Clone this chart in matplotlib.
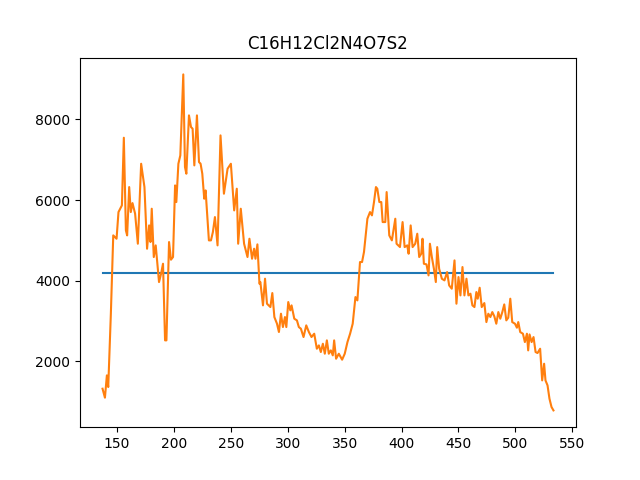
import matplotlib
matplotlib.use("Agg")
import matplotlib.pyplot as plt

# values
x = [137.4, 139.5, 141.2, 142.4, 144.7, 146.8, 149.7, 151.4, 154.4, 156.1, 157.9, 159.0,
     160.8, 162.2, 163.7, 166.0, 168.4, 171.3, 174.2, 176.5, 178.3, 179.5, 180.6, 182.4,
     184.1, 187.0, 188.8, 190.5, 192.3, 193.5, 195.8, 197.5, 199.3, 201.1, 202.2, 204.0,
     205.7, 208.3, 209.8, 211.0, 213.3, 215.1, 216.5, 218.0, 220.3, 222.1, 223.5, 225.0,
     226.7, 227.9, 230.8, 232.6, 234.3, 236.1, 238.4, 241.0, 244.0, 247.2, 250.1, 253.0,
     255.3, 256.5, 258.8, 261.7, 264.7, 266.4, 268.7, 270.5, 271.7, 273.4, 275.2, 276.0,
     278.3, 280.1, 281.8, 284.8, 286.5, 288.3, 290.6, 292.3, 294.1, 295.8, 297.6, 298.8,
     300.5, 302.3, 303.4, 305.8, 308.1, 309.8, 311.6, 313.9, 316.3, 318.6, 320.9, 323.3,
     325.6, 327.4, 329.1, 330.9, 332.6, 334.4, 336.1, 337.9, 339.6, 340.8, 342.5, 344.9,
     347.8, 350.1, 352.5, 354.8, 357.1, 359.5, 361.2, 363.5, 365.3, 367.0, 370.0, 372.3,
     374.0, 375.8, 377.5, 378.7, 380.5, 382.2, 383.4, 385.7, 386.9, 389.2, 391.5, 394.5,
     395.6, 398.6, 400.9, 402.7, 405.0, 406.2, 408.0, 409.7, 412.0, 413.8, 415.5, 417.3,
     418.4, 419.6, 421.9, 423.7, 424.9, 426.6, 428.4, 430.1, 431.3, 433.0, 435.4, 437.7,
     440.0, 441.8, 444.1, 446.5, 448.2, 450.0, 451.7, 453.5, 455.2, 457.0, 458.7, 460.5,
     462.2, 464.0, 465.7, 466.9, 468.6, 470.4, 472.7, 474.5, 476.2, 478.0, 479.7, 481.5,
     483.2, 485.0, 486.7, 488.5, 490.2, 492.0, 493.7, 495.5, 497.2, 499.6, 501.3, 502.5,
     504.2, 506.6, 508.3, 510.1, 511.2, 512.4, 514.2, 515.9, 517.7, 519.4, 521.7, 523.5,
     525.2, 526.4, 528.2, 529.9, 531.7, 533.4]
counts = [1324, 1101, 1654, 1365, 3183, 5125, 5042, 5703, 5869, 7546, 5249, 5125,
          6323, 5703, 5926, 5662, 4918, 6901, 6323, 4794, 5373, 4960, 5786, 4588,
          4877, 3968, 4175, 4422, 2522, 2522, 4960, 4522, 4588, 6364, 5951, 6901,
          7108, 9116, 6819, 6654, 8100, 7810, 7769, 6860, 8100, 6943, 6901, 6654,
          6034, 6240, 5001, 5001, 5207, 5579, 4877, 7604, 6158, 6777, 6901, 5744,
          6282, 4918, 5786, 4918, 4588, 5042, 4546, 4794, 4546, 4902, 3927, 3968,
          3390, 4051, 3431, 3348, 3695, 3100, 2935, 2729, 3183, 2852, 3100, 2852,
          3472, 3266, 3390, 3059, 3018, 2852, 2811, 2605, 2894, 2729, 2605, 2687,
          2315, 2398, 2233, 2439, 2191, 2522, 2191, 2274, 2150, 2522, 2067, 2191,
          2043, 2191, 2481, 2687, 2935, 3596, 3513, 4464, 4464, 4712, 5538, 5703,
          5621, 5951, 6323, 6282, 5951, 5951, 5455, 5455, 6199, 5125, 5001, 5538,
          4918, 4836, 5455, 4835, 4877, 4670, 5372, 4835, 4918, 5166, 4588, 4670,
          5042, 4422, 4406, 4133, 4918, 4588, 4298, 3968, 4835, 4298, 4050, 4009,
          4216, 3885, 3803, 4505, 3431, 4092, 3637, 4340, 3637, 4050, 3637, 3679,
          3390, 3348, 3720, 3555, 3827, 3348, 3447, 2976, 3183, 3100, 3224, 3117,
          2935, 3224, 3059, 3224, 3414, 3018, 3084, 3555, 2976, 2935, 2836, 2976,
          2728, 2687, 2480, 2687, 2274, 2670, 2480, 2604, 2233, 2208, 2315, 1530,
          1943, 1530, 1406, 1076, 870, 786]
mean_level = 4190
title = "C16H12Cl2N4O7S2"

fig = plt.figure(figsize=(6.4, 4.8), dpi=100)
plt.plot([x[0], x[-1]], [mean_level, mean_level])
plt.plot(x, counts)
plt.title(title)
plt.savefig("out.png", dpi=100)
